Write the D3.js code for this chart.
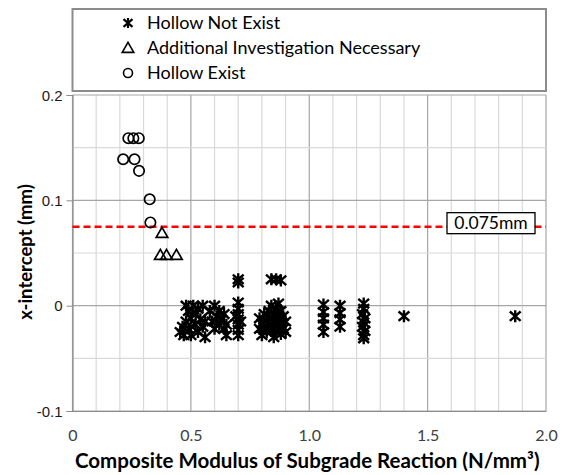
<!DOCTYPE html>
<html>
<head>
<meta charset="utf-8">
<script src="https://cdn.jsdelivr.net/npm/d3@7"></script>
<style>
  html, body { margin: 0; padding: 0; background: #fff; }
  svg { display: block; }
</style>
</head>
<body>
<svg id="chart" width="562" height="475"></svg>
<script>
// Series: [composite modulus (N/mm^3), x-intercept (mm)]
const hollowNotExist = [
  [0.455,-0.025],[0.465,-0.020],[0.470,-0.028],[0.480,-0.015],[0.480,0.000],
  [0.490,-0.022],[0.490,-0.005],[0.500,-0.012],[0.500,-0.028],
  [0.510,0.000],[0.520,-0.008],[0.520,-0.018],[0.530,-0.025],[0.530,-0.003],
  [0.540,-0.013],[0.550,-0.020],[0.550,0.000],[0.560,-0.015],[0.560,-0.030],
  [0.580,-0.005],[0.590,-0.015],[0.600,0.000],[0.600,-0.022],[0.610,-0.010],
  [0.620,-0.018],[0.620,-0.005],[0.630,-0.013],[0.640,-0.022],[0.640,-0.008],
  [0.650,-0.018],[0.650,-0.028],
  [0.700,0.025],[0.700,0.022],[0.700,0.003],[0.700,-0.003],[0.700,-0.008],
  [0.700,-0.013],[0.700,-0.018],[0.700,-0.023],[0.700,-0.028],[0.690,-0.010],
  [0.710,-0.015],
  [0.840,0.025],[0.860,0.025],[0.880,0.024],
  [0.790,-0.012],[0.790,-0.022],[0.800,-0.017],[0.800,-0.028],[0.810,-0.008],
  [0.810,-0.020],[0.820,-0.014],[0.820,-0.025],[0.830,-0.005],[0.830,-0.018],
  [0.840,0.000],[0.840,-0.012],[0.840,-0.024],[0.850,-0.008],[0.850,-0.020],
  [0.850,-0.030],[0.860,-0.003],[0.860,-0.015],[0.860,-0.025],[0.870,0.002],
  [0.870,-0.010],[0.870,-0.020],[0.880,-0.005],[0.880,-0.016],[0.880,-0.027],
  [0.890,-0.010],[0.890,-0.022],[0.900,-0.015],[0.900,-0.025],
  [1.060,0.001],[1.060,-0.006],[1.060,-0.012],[1.060,-0.018],[1.060,-0.025],
  [1.130,0.000],[1.130,-0.007],[1.130,-0.013],[1.130,-0.020],
  [1.230,0.002],[1.230,-0.003],[1.225,-0.008],[1.235,-0.012],[1.230,-0.016],
  [1.225,-0.020],[1.235,-0.024],[1.230,-0.028],[1.230,-0.031],
  [1.400,-0.010],[1.870,-0.010]
];
const additionalInvestigation = [
  [0.378,0.069],[0.371,0.048],[0.397,0.048],[0.439,0.048]
];
const hollowExist = [
  [0.236,0.159],[0.257,0.159],[0.280,0.159],
  [0.214,0.139],[0.262,0.139],[0.281,0.128],
  [0.326,0.101],[0.329,0.079]
];
const threshold = 0.075;
const thresholdLabel = "0.075mm";
const xTicks = [0, 0.5, 1.0, 1.5, 2.0];
const xTickLabels = ["0", "0.5", "1.0", "1.5", "2.0"];
const yTicks = [-0.1, 0, 0.1, 0.2];
const yTickLabels = ["-0.1", "0", "0.1", "0.2"];
const legendItems = ["Hollow Not Exist", "Additional Investigation Necessary", "Hollow Exist"];

const svg = d3.select("#chart");
const plot = { left: 72.5, right: 546, top: 95, bottom: 411 };

const x = d3.scaleLinear().domain([0, 2]).range([plot.left, plot.right]);
const y = d3.scaleLinear().domain([-0.1, 0.2]).range([plot.bottom, plot.top]);

const uiFont = "Lato, 'Open Sans', sans-serif";
const numFont = "'Liberation Sans', Arial, sans-serif";

// Grid: minor every 0.1 on x and 0.05 on y, major lines darker
const g = svg.append("g");
const minorX = d3.range(0, 2.0001, 0.1).map(v => +v.toFixed(2));
const minorY = d3.range(-0.1, 0.2001, 0.05).map(v => +v.toFixed(3));
const isMajorX = v => Math.abs(v / 0.5 - Math.round(v / 0.5)) < 1e-6;
const isMajorY = v => Math.abs(v / 0.1 - Math.round(v / 0.1)) < 1e-6;

g.selectAll("line.vx").data(minorX).join("line")
  .attr("x1", d => x(d)).attr("x2", d => x(d))
  .attr("y1", plot.top).attr("y2", plot.bottom)
  .attr("stroke", d => isMajorX(d) ? "#a6a6a6" : "#d9d9d9")
  .attr("stroke-width", 1.2);
g.selectAll("line.hy").data(minorY).join("line")
  .attr("x1", plot.left).attr("x2", plot.right)
  .attr("y1", d => y(d)).attr("y2", d => y(d))
  .attr("stroke", d => isMajorY(d) ? "#a6a6a6" : "#d9d9d9")
  .attr("stroke-width", 1.2);

// Axes
const yAxis = d3.axisLeft(y).tickValues(yTicks).tickSize(6).tickFormat((d, i) => yTickLabels[i]);
const ya = svg.append("g").attr("transform", `translate(${plot.left},0)`).call(yAxis);
ya.select(".domain").attr("stroke", "#8c8c8c").attr("stroke-width", 1.2);
ya.selectAll(".tick line").attr("stroke", "#8c8c8c");
ya.selectAll(".tick text").attr("font-family", numFont).attr("font-size", 15)
  .attr("fill", "#1a1a1a").attr("x", -10).attr("dy", "0.35em");

const xAxis = d3.axisBottom(x).tickValues(xTicks).tickSize(0).tickFormat((d, i) => xTickLabels[i]);
const xa = svg.append("g").attr("transform", `translate(0,${plot.bottom})`).call(xAxis);
xa.select(".domain").attr("stroke", "#8c8c8c").attr("stroke-width", 1.2);
xa.selectAll(".tick text").attr("font-family", uiFont).attr("font-size", 16)
  .attr("fill", "#404040").attr("y", 19);

// Axis titles
svg.append("text")
  .attr("x", (plot.left + plot.right) / 2 - 2).attr("y", 468)
  .attr("text-anchor", "middle")
  .attr("font-family", uiFont).attr("font-weight", "bold").attr("font-size", 20.5)
  .attr("fill", "#000")
  .text("Composite Modulus of Subgrade Reaction (N/mm³)");

svg.append("text")
  .attr("transform", `translate(32,252) rotate(-90)`)
  .attr("text-anchor", "middle")
  .attr("font-family", uiFont).attr("font-weight", "bold").attr("font-size", 18.5)
  .attr("fill", "#000")
  .text("x-intercept (mm)");

// Threshold line and label
svg.append("line")
  .attr("x1", plot.left).attr("x2", plot.right)
  .attr("y1", y(threshold)).attr("y2", y(threshold))
  .attr("stroke", "#ff0000").attr("stroke-width", 2.5)
  .attr("stroke-dasharray", "7,4");

const lbl = svg.append("g");
lbl.append("rect")
  .attr("x", 447).attr("y", y(threshold) - 14).attr("width", 88).attr("height", 21)
  .attr("fill", "#fff").attr("stroke", "#000").attr("stroke-width", 1.3);
lbl.append("text")
  .attr("x", 491).attr("y", y(threshold) + 2)
  .attr("text-anchor", "middle")
  .attr("font-family", uiFont).attr("font-size", 17.5).attr("fill", "#000")
  .text(thresholdLabel);

// Marker shapes
function starPath(r) {
  const a = r * 0.9, b = r * 0.78;
  return `M0,${-r}L0,${r}M${-a},${-b}L${a},${b}M${a},${-b}L${-a},${b}`;
}
const triPath = d3.symbol().type(d3.symbolTriangle).size(58)();

const marks = svg.append("g");
marks.selectAll("path.star").data(hollowNotExist).join("path")
  .attr("transform", d => `translate(${x(d[0])},${y(d[1])})`)
  .attr("d", starPath(6))
  .attr("stroke", "#000").attr("stroke-width", 2.4).attr("fill", "none");

marks.selectAll("path.tri").data(additionalInvestigation).join("path")
  .attr("transform", d => `translate(${x(d[0])},${y(d[1]) + 1})`)
  .attr("d", triPath)
  .attr("stroke", "#000").attr("stroke-width", 1.7).attr("fill", "none");

marks.selectAll("circle.hol").data(hollowExist).join("circle")
  .attr("cx", d => x(d[0])).attr("cy", d => y(d[1])).attr("r", 5.2)
  .attr("stroke", "#000").attr("stroke-width", 1.7).attr("fill", "none");

// Legend
const leg = svg.append("g");
leg.append("rect")
  .attr("x", plot.left).attr("y", 9).attr("width", plot.right - plot.left).attr("height", 82)
  .attr("fill", "#fff").attr("stroke", "#8c8c8c").attr("stroke-width", 2);

const legendY = [23, 48, 73];
const legRow = leg.selectAll("g.row").data(legendItems).join("g")
  .attr("transform", (d, i) => `translate(128,${legendY[i]})`);
legRow.each(function(d, i) {
  const row = d3.select(this);
  if (i === 0) {
    row.append("path").attr("d", starPath(5))
      .attr("stroke", "#000").attr("stroke-width", 2.2).attr("fill", "none");
  } else if (i === 1) {
    row.append("path").attr("d", triPath).attr("transform", "translate(0,1)")
      .attr("stroke", "#000").attr("stroke-width", 1.6).attr("fill", "none");
  } else {
    row.append("circle").attr("r", 4.5)
      .attr("stroke", "#000").attr("stroke-width", 1.6).attr("fill", "none");
  }
  row.append("text").attr("x", 19).attr("y", 0).attr("dy", "0.35em")
    .attr("font-family", uiFont).attr("font-size", 18).attr("fill", "#000")
    .text(d);
});
</script>
</body>
</html>
